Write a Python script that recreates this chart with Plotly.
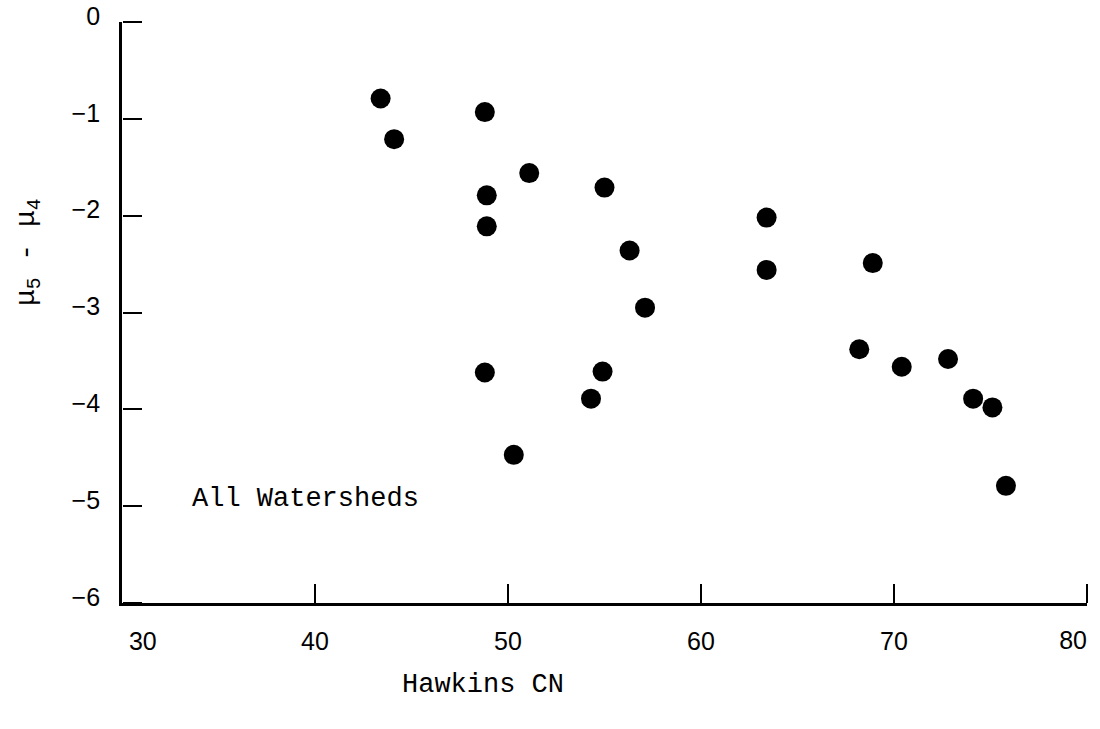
import plotly.graph_objects as go

# Data
hawkins_cn = [43.4, 44.1, 48.8, 48.9, 48.9, 48.8, 51.1, 55.0, 56.3, 57.1,
              54.9, 54.3, 50.3, 63.4, 63.4, 68.9, 68.2, 70.4, 72.8, 74.1,
              75.1, 75.8]
mu_diff = [-0.79, -1.21, -0.93, -1.79, -2.11, -3.62, -1.56, -1.71, -2.36, -2.95,
           -3.61, -3.89, -4.47, -2.02, -2.56, -2.49, -3.38, -3.56, -3.48, -3.89,
           -3.98, -4.79]

x_ticks = [30, 40, 50, 60, 70, 80]
x_inner_ticks = [40, 50, 60, 70, 80]
x_labels_main = ["\u00a0" * 6 + "30", "40", "50", "60", "70"]
x_last_label = ["80"]
y_ticks = [0, -1, -2, -3, -4, -5, -6]
y_labels = [str(v).replace("-", "\u2212") + "\u00a0\u00a0" for v in y_ticks]

mono = "Liberation Mono"
sans = "Liberation Sans"

fig = go.Figure()
fig.add_trace(go.Scatter(
    x=hawkins_cn, y=mu_diff, mode="markers",
    marker=dict(color="black", size=20, line=dict(width=0)),
    showlegend=False, cliponaxis=False, hoverinfo="x+y",
))
# invisible copies on the overlay axes (ticks / last label)
fig.add_trace(go.Scatter(
    x=hawkins_cn, y=mu_diff, mode="markers", xaxis="x2", yaxis="y2",
    marker=dict(color="black", size=1, opacity=0),
    showlegend=False, hoverinfo="skip",
))
fig.add_trace(go.Scatter(
    x=hawkins_cn, y=mu_diff, mode="markers", xaxis="x3", yaxis="y",
    marker=dict(color="black", size=1, opacity=0),
    showlegend=False, hoverinfo="skip",
))

tick_common = dict(ticks="outside", ticklen=19, tickwidth=2, tickcolor="black",
                   showticklabels=False, showgrid=False, zeroline=False,
                   showline=False, automargin=False)

fig.update_layout(
    width=1100, height=729,
    margin=dict(l=122, r=13, t=22, b=126, autoexpand=False),
    paper_bgcolor="white", plot_bgcolor="white",
    xaxis=dict(
        range=[30, 80], tickvals=x_ticks[:-1], ticktext=x_labels_main,
        showgrid=False, zeroline=False, showline=True, linecolor="black",
        linewidth=3, ticks="",
        tickfont=dict(family=sans, size=25, color="black"),
        ticklabelstandoff=14, ticklabeloverflow="allow", automargin=False,
    ),
    xaxis3=dict(
        range=[30, 80], tickvals=x_ticks[-1:], ticktext=x_last_label,
        overlaying="x", side="bottom", anchor="y",
        showgrid=False, zeroline=False, showline=False, ticks="",
        tickfont=dict(family=sans, size=25, color="black"),
        ticklabelposition="outside left",
        ticklabelstandoff=20, ticklabeloverflow="allow", automargin=False,
    ),
    yaxis=dict(
        range=[-6, 0], tickvals=y_ticks, ticktext=y_labels,
        showgrid=False, zeroline=False, showline=True, linecolor="black",
        linewidth=3, ticks="",
        tickfont=dict(family=sans, size=25, color="black"),
        ticklabelshift=-6, ticklabeloverflow="allow", automargin=False,
    ),
    xaxis2=dict(range=[30, 80], tickvals=x_inner_ticks, overlaying="x", side="top",
                anchor="free", position=0, **tick_common),
    yaxis2=dict(range=[-6, 0], tickvals=y_ticks, overlaying="y", side="right",
                anchor="free", position=0, **tick_common),
    annotations=[
        dict(text="All Watersheds", x=33.5, y=-4.93, xref="x", yref="y",
             xanchor="left", yanchor="middle", showarrow=False,
             font=dict(family=mono, size=27, color="black")),
        dict(text="Hawkins CN", x=0.288, y=-0.141, xref="paper", yref="paper",
             xanchor="left", yanchor="middle", showarrow=False,
             font=dict(family=mono, size=27, color="black")),
        dict(text="\u03bc<sub>5</sub> - \u03bc<sub>4</sub>", x=-0.0974, y=0.604,
             xref="paper", yref="paper", textangle=-90, xanchor="center", yanchor="middle",
             showarrow=False, font=dict(family=mono, size=28, color="black")),
    ],
)

fig.write_html("out.html")
